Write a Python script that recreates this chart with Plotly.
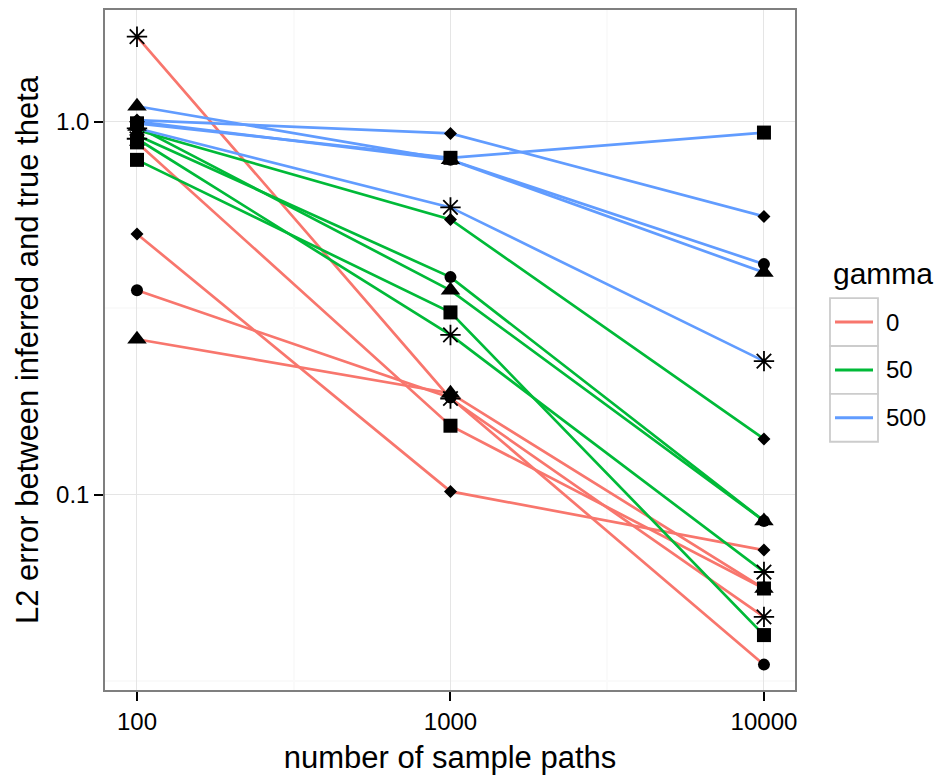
import plotly.graph_objects as go

# ---- data -------------------------------------------------------------
sample_paths = [100, 1000, 10000]
gamma_levels = ["0", "50", "500"]
gamma_colors = ["#F8766D", "#00BA38", "#619CFF"]
shape_levels = ["circle", "triangle", "square", "diamond", "star"]

# L2 error, rows follow shape_levels, columns follow sample_paths
err_gamma0 = [
    [0.353, 0.182, 0.035],
    [0.261, 0.187, 0.056],
    [0.880, 0.153, 0.056],
    [0.500, 0.102, 0.071],
    [1.690, 0.181, 0.047],
]
err_gamma50 = [
    [0.920, 0.383, 0.085],
    [0.970, 0.353, 0.085],
    [0.790, 0.308, 0.042],
    [0.950, 0.547, 0.141],
    [0.900, 0.268, 0.062],
]
err_gamma500 = [
    [1.000, 0.790, 0.415],
    [1.100, 0.790, 0.394],
    [0.990, 0.800, 0.935],
    [1.010, 0.930, 0.557],
    [0.960, 0.589, 0.228],
]
all_errors = [err_gamma0, err_gamma50, err_gamma500]

x_tick_vals = [100, 1000, 10000]
x_tick_text = ["100", "1000", "10000"]
y_tick_vals = [0.1, 1.0]
y_tick_text = ["0.1", "1.0"]

# ---- styling ----------------------------------------------------------
FONT = "Liberation Sans, Arial, Helvetica, sans-serif"
marker_style = {
    "circle": dict(symbol="circle", size=12),
    "triangle": dict(symbol="triangle-up", size=17),
    "square": dict(symbol="square", size=14),
    "diamond": dict(symbol="diamond", size=10),
    "star": dict(symbol="asterisk-open", size=17),
}

fig = go.Figure()

# lines first
for g, errs in enumerate(all_errors):
    for s, name in enumerate(shape_levels):
        fig.add_trace(go.Scatter(
            x=sample_paths, y=errs[s], mode="lines",
            line=dict(color=gamma_colors[g], width=2.7),
            showlegend=False, hoverinfo="skip"))

# points on top
for g, errs in enumerate(all_errors):
    for s, name in enumerate(shape_levels):
        st = marker_style[name]
        mk = dict(symbol=st["symbol"], size=st["size"], color="black",
                  line=dict(width=0))
        if name == "star":
            mk["line"] = dict(width=1.8, color="black")
        fig.add_trace(go.Scatter(
            x=sample_paths, y=errs[s], mode="markers", marker=mk,
            name=f"gamma={gamma_levels[g]}, {name}", showlegend=False))

grid_major = "#E5E5E5"
grid_minor = "#FAFAFA"

fig.update_xaxes(
    type="log", range=[1.898, 4.099],
    tickmode="array", tickvals=x_tick_vals, ticktext=x_tick_text,
    showgrid=True, gridcolor=grid_major, gridwidth=1,
    minor=dict(tickmode="array", tickvals=[10 ** 2.5, 10 ** 3.5],
               showgrid=True, gridcolor=grid_minor, gridwidth=2, ticklen=0),
    ticks="outside", ticklen=9, tickwidth=1.5, tickcolor="black",
    showline=True, linecolor="#7F7F7F", linewidth=1.5, mirror=True,
    zeroline=False,
    tickfont=dict(family=FONT, size=24, color="black"),
    title=dict(text="number of sample paths", standoff=13,
               font=dict(family=FONT, size=31, color="black")),
)
fig.update_yaxes(
    type="log", range=[-1.524, 0.2995],
    tickmode="array", tickvals=y_tick_vals, ticktext=y_tick_text,
    showgrid=True, gridcolor=grid_major, gridwidth=1,
    minor=dict(tickmode="array", tickvals=[10 ** -0.5, 10 ** -1.5],
               showgrid=True, gridcolor=grid_minor, gridwidth=2, ticklen=0),
    ticks="outside", ticklen=9, tickwidth=1.5, tickcolor="black",
    showline=True, linecolor="#7F7F7F", linewidth=1.5, mirror=True,
    zeroline=False,
    tickfont=dict(family=FONT, size=24, color="black"),
    title=dict(text="L2 error between inferred and true theta", standoff=8,
               font=dict(family=FONT, size=31, color="black")),
)

# ---- legend (gamma) drawn as keys in paper coordinates -----------------
W, H = 946, 778
L, R, T, B = 105, 151, 8, 88
pw, ph = W - L - R, H - T - B


def px_x(x):
    return (x - L) / pw


def px_y(y):
    return 1 - (y - T) / ph


shapes = []
annotations = [dict(text="gamma", x=px_x(831), y=px_y(272), xref="paper",
                    yref="paper", xanchor="left", yanchor="middle",
                    showarrow=False,
                    font=dict(family=FONT, size=30, color="black"))]
box_top = 297
box_h = 48
for i, (lab, col) in enumerate(zip(gamma_levels, gamma_colors)):
    y0 = box_top + i * box_h
    y1 = y0 + box_h
    shapes.append(dict(type="rect", xref="paper", yref="paper",
                       x0=px_x(830), x1=px_x(878), y0=px_y(y1), y1=px_y(y0),
                       line=dict(color="#CCCCCC", width=1.8),
                       fillcolor="white", layer="above"))
    yc = (y0 + y1) / 2
    shapes.append(dict(type="line", xref="paper", yref="paper",
                       x0=px_x(835), x1=px_x(873), y0=px_y(yc), y1=px_y(yc),
                       line=dict(color=col, width=3), layer="above"))
    annotations.append(dict(text=lab, x=px_x(884), y=px_y(yc), xref="paper",
                            yref="paper", xanchor="left", yanchor="middle",
                            showarrow=False,
                            font=dict(family=FONT, size=24, color="black")))

fig.update_layout(
    width=W, height=H,
    margin=dict(l=L, r=R, t=T, b=B),
    paper_bgcolor="white", plot_bgcolor="white",
    showlegend=False,
    shapes=shapes, annotations=annotations,
)

fig.write_html("out.html")
